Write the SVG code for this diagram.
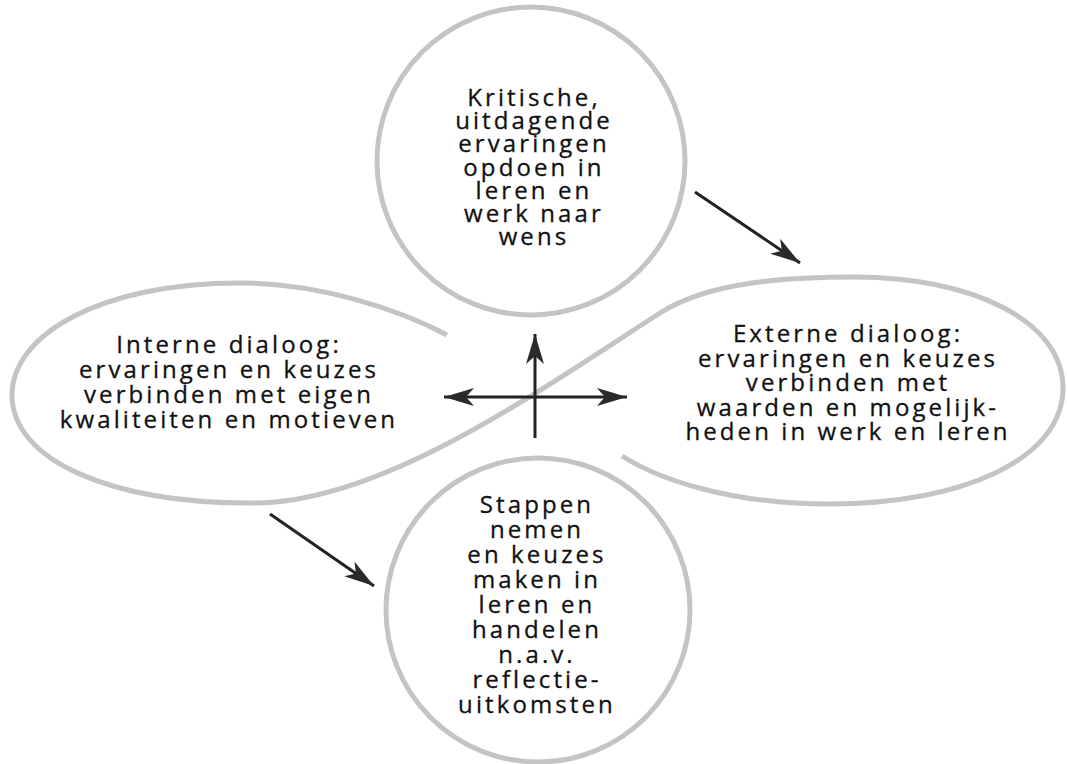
<svg xmlns="http://www.w3.org/2000/svg" width="1067" height="764" viewBox="0 0 1067 764">
<style>
.shape{fill:none;stroke:#c4c4c4;stroke-width:5}
.arr{fill:none;stroke:#222;stroke-width:3}
.lbl{font-family:"Open Sans","Noto Sans",sans-serif;font-size:24px;letter-spacing:3.1px;fill:#111;stroke:#111;stroke-width:0.3;text-anchor:middle}
</style>
<defs>
<marker id="ah" viewBox="-32 -10 34 20" refX="0" refY="0" markerWidth="34" markerHeight="20" markerUnits="userSpaceOnUse" orient="auto-start-reverse">
<path d="M0,0 L-30,-9 L-22,0 L-30,9 Z" fill="#2a2a2a"/>
</marker>
</defs>
<rect width="1067" height="764" fill="#ffffff"/>
<g id="loop">
<path class="shape" d="M447,335 C400,310 320,283 240,283 C100,283 12,335 12,395 C12,460 110,503 250,503 C380,505 540,390 660,313 C710,281 790,277 855,277 C970,277 1063,320 1063,388 C1063,460 960,504 830,504 C730,504 660,480 622,456"/>
</g>
<g id="node-top">
<circle class="shape" cx="531" cy="161" r="154"/>
<text class="lbl"><tspan x="534" y="106">Kritische,</tspan><tspan x="534" y="129.2">uitdagende</tspan><tspan x="534" y="152.4">ervaringen</tspan><tspan x="534" y="175.6">opdoen in</tspan><tspan x="534" y="198.8">leren en</tspan><tspan x="534" y="222">werk naar</tspan><tspan x="534" y="245.2">wens</tspan></text>
</g>
<g id="node-left">
<text class="lbl"><tspan x="229" y="353">Interne dialoog:</tspan><tspan x="229" y="378">ervaringen en keuzes</tspan><tspan x="229" y="403">verbinden met eigen</tspan><tspan x="229" y="428">kwaliteiten en motieven</tspan></text>
</g>
<g id="node-right">
<text class="lbl"><tspan x="848" y="342">Externe dialoog:</tspan><tspan x="848" y="366.5">ervaringen en keuzes</tspan><tspan x="848" y="391">verbinden met</tspan><tspan x="848" y="415.5">waarden en mogelijk-</tspan><tspan x="848" y="440">heden in werk en leren</tspan></text>
</g>
<g id="node-bottom">
<circle class="shape" cx="538" cy="610" r="152"/>
<text class="lbl"><tspan x="537" y="513">Stappen</tspan><tspan x="537" y="538">nemen</tspan><tspan x="537" y="563">en keuzes</tspan><tspan x="537" y="588">maken in</tspan><tspan x="537" y="613">leren en</tspan><tspan x="537" y="638">handelen</tspan><tspan x="537" y="663">n.a.v.</tspan><tspan x="537" y="688">reflectie-</tspan><tspan x="537" y="713">uitkomsten</tspan></text>
</g>
<g id="connectors">
<line class="arr" x1="695" y1="192" x2="800" y2="263" marker-end="url(#ah)"/>
<line class="arr" x1="270" y1="514" x2="374" y2="586" marker-end="url(#ah)"/>
<line class="arr" x1="535" y1="438" x2="535" y2="334" stroke-width="4" marker-end="url(#ah)"/>
<line class="arr" x1="444" y1="397" x2="627" y2="397" marker-start="url(#ah)" marker-end="url(#ah)"/>
</g>
</svg>
